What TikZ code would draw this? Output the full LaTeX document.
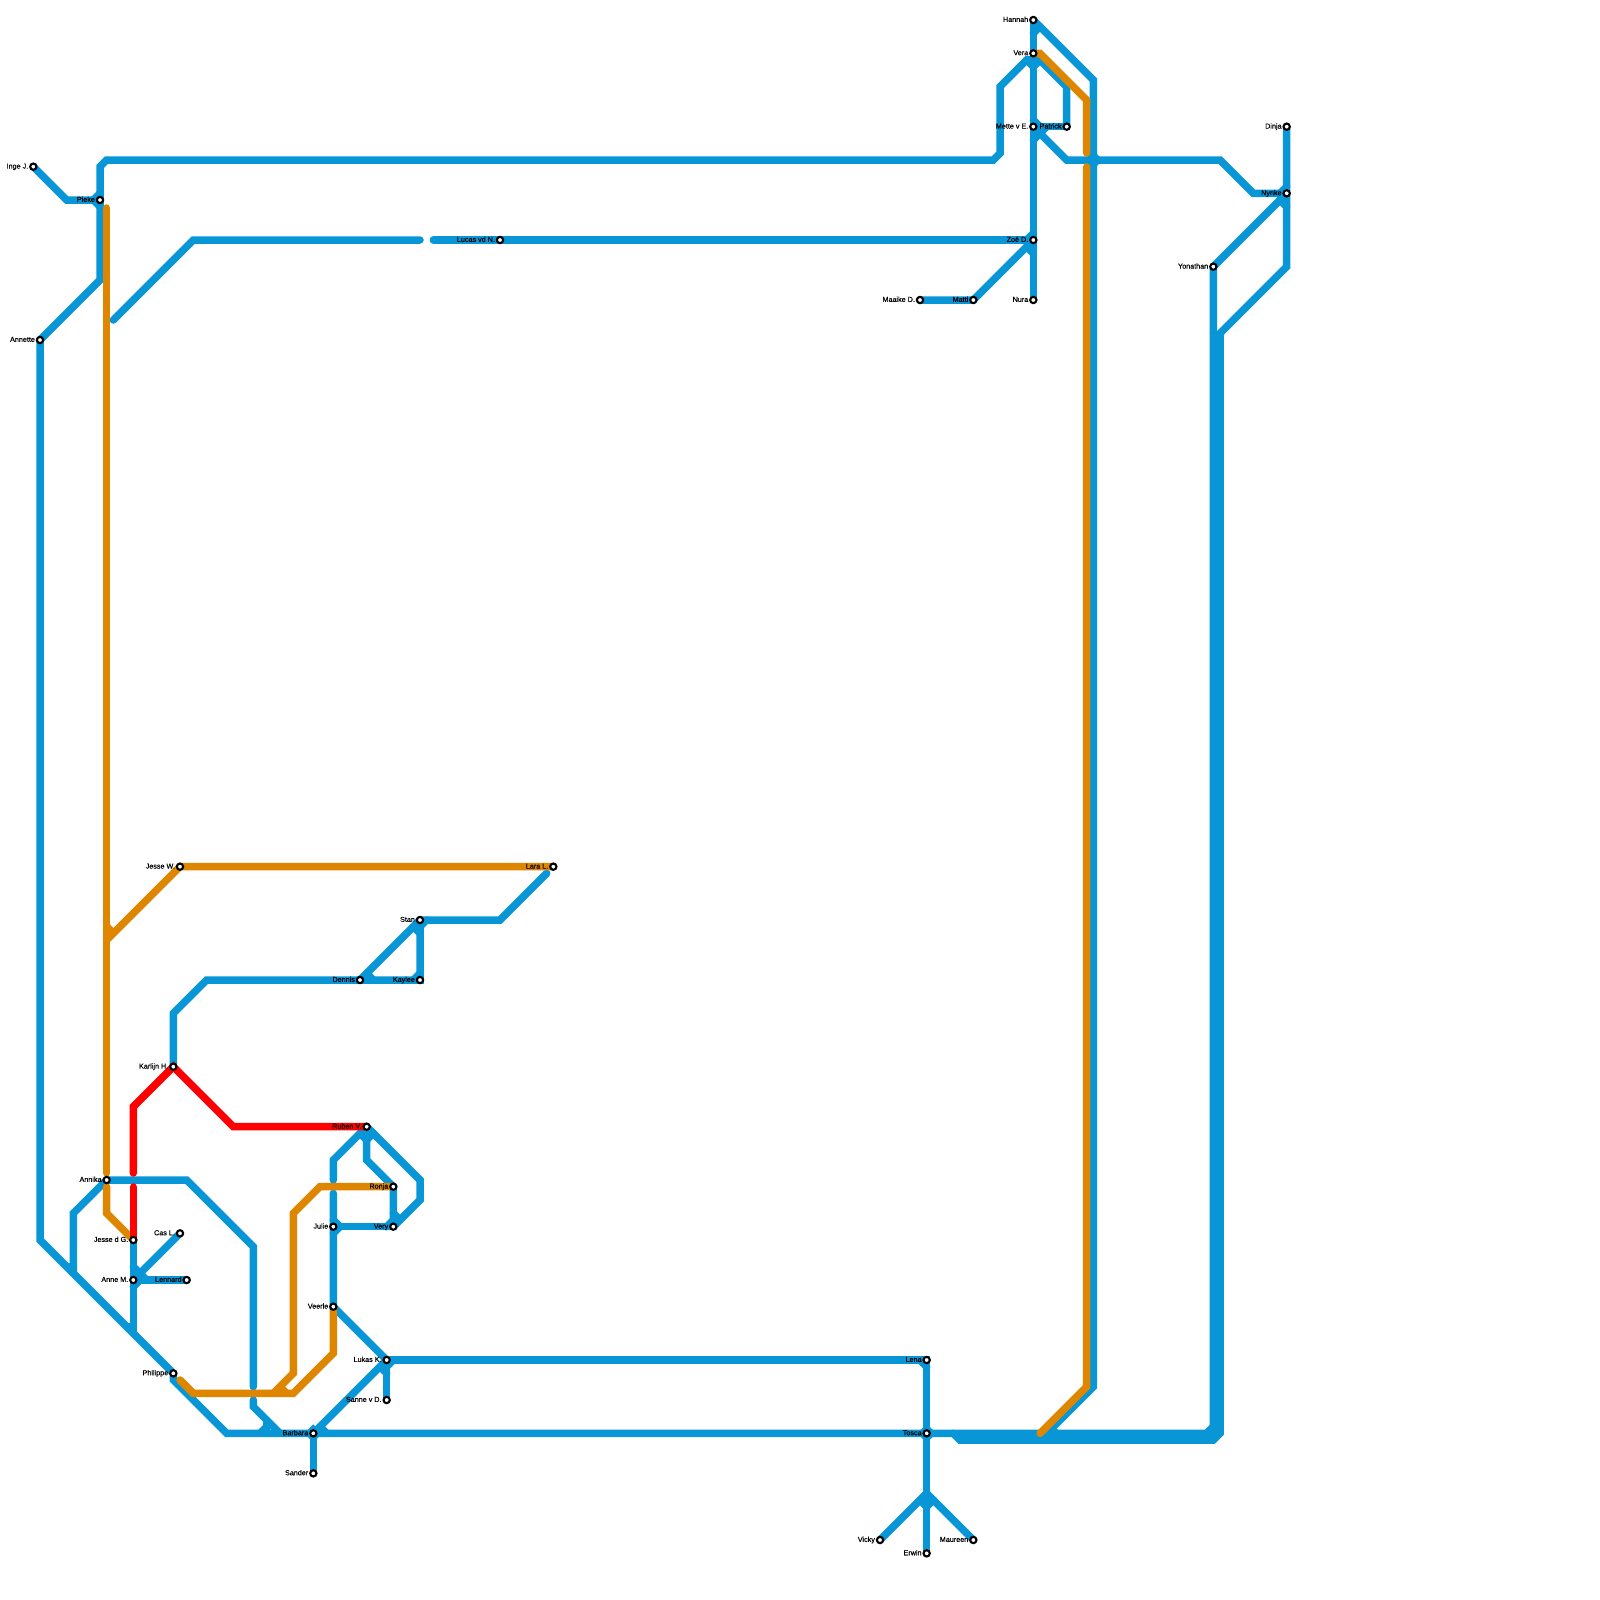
\documentclass[tikz,border=0pt]{standalone}
\usepackage{fontspec}
\setmainfont{Liberation Sans}
\pgfdeclarelayer{fg}
\pgfsetlayers{main,fg}
\definecolor{mblue}{HTML}{0896D7}
\definecolor{morange}{HTML}{DF8600}
\definecolor{mred}{HTML}{FF0000}
\tikzset{
  stn/.style={circle,draw=black,fill=white,line width=2.1pt,minimum size=6.3pt,inner sep=0pt,outer sep=0pt},
  lab/.style={inner sep=0pt,outer sep=0pt,text=black,font=\fontsize{7.2}{8}\selectfont\addfontfeature{FakeBold=0.3}},
  lineb/.style={draw=mblue,line width=7.5pt,line cap=round,line join=miter,miter limit=10},
  lineo/.style={lineb,draw=morange},
  liner/.style={lineb,draw=mred},
  blob/.style={fill=mblue,draw=none},
}
\newcommand{\stn}[4]{%
  \node[stn] (#1) at (#2,#3) {};
  \node[lab,anchor=base east] (#1-l) at ([shift={(-5.1,1.9)}]#1.center) {#4};
}
\newcommand{\dia}[3]{\fill[blob] (#1-#3,#2) -- (#1,#2-#3) -- (#1+#3,#2) -- (#1,#2+#3) -- cycle;}
\begin{document}
\begin{tikzpicture}[x=1pt,y=-1pt]
\useasboundingbox (0,0) rectangle (1600,1600);
\begin{pgfonlayer}{fg}
\stn{inge}{33.33}{166.67}{Inge J.}
\stn{pieke}{100}{200}{Pieke}
\stn{annette}{40}{340}{Annette}
\stn{hannah}{1033.33}{20}{Hannah}
\stn{vera}{1033.33}{53.33}{Vera}
\stn{mette}{1033.33}{126.67}{Mette v E.}
\stn{patrick}{1066.67}{126.67}{Patrick}
\stn{zoe}{1033.33}{240}{Zoë D.}
\stn{nura}{1033.33}{300}{Nura}
\stn{matti}{973.33}{300}{Matti}
\stn{maaike}{920}{300}{Maaike D.}
\stn{lucas}{500}{240}{Lucas vd N.}
\stn{dinja}{1286.67}{126.67}{Dinja}
\stn{nynke}{1286.67}{193.33}{Nynke}
\stn{yonathan}{1213.33}{266.67}{Yonathan}
\stn{jessew}{180}{866.67}{Jesse W.}
\stn{lara}{553.33}{866.67}{Lara L.}
\stn{stan}{420}{920}{Stan}
\stn{dennis}{360}{980}{Dennis}
\stn{kaylee}{420}{980}{Kaylee}
\stn{karlijn}{173.33}{1066.67}{Karlijn H.}
\stn{ruben}{366.67}{1126.67}{Ruben V.}
\stn{annika}{106.67}{1180}{Annika}
\stn{jessed}{133.33}{1240}{Jesse d G.}
\stn{cas}{180}{1233.33}{Cas L.}
\stn{anne}{133.33}{1280}{Anne M.}
\stn{lennard}{186.67}{1280}{Lennard}
\stn{philippe}{173.33}{1373.33}{Philippe}
\stn{ronja}{393.33}{1186.67}{Ronja}
\stn{very}{393.33}{1226.67}{Very}
\stn{julie}{333.33}{1226.67}{Julie}
\stn{veerle}{333.33}{1306.67}{Veerle}
\stn{lukas2}{386.67}{1360}{Lukas K.}
\stn{sanne}{386.67}{1400}{Sanne v D.}
\stn{barbara}{313.33}{1433.33}{Barbara}
\stn{sander}{313.33}{1473.33}{Sander}
\stn{lena}{926.67}{1360}{Lena}
\stn{tosca}{926.67}{1433.33}{Tosca}
\stn{vicky}{880}{1540}{Vicky}
\stn{erwin}{926.67}{1553.33}{Erwin}
\stn{maureen}{973.33}{1540}{Maureen}
\end{pgfonlayer}
% blue blobs at interchanges
\dia{926.67}{1433.33}{9.5}
\dia{1093.33}{160}{9.5}
\dia{313.33}{1433.33}{9}
% blue lines
\draw[lineb] (inge.center) -- (66.67,200) -- (pieke.center);
\draw[lineb] (pieke.center) -- (100,166.67) -- (106.67,160) -- (993.33,160) -- (1000,153.33) -- (1000,86.67) -- (1026.67,60) -- (1040,60) -- (1066.67,86.67) -- (1066.67,120) -- (patrick.center);
\draw[lineb] (pieke.center) -- (100,280) -- (annette.center) -- (40,1240) -- (philippe.center) -- (173.33,1380) -- (226.67,1433.33) -- (barbara.center);
\draw[lineb] (100,193.33) -- (93.33,200) -- (100,206.67);
\draw[lineb] (hannah.center) -- (nura.center);
\draw[lineb] (hannah.center) -- (1093.33,80) -- (1093.33,1386.67) -- (1046.67,1433.33);
\draw[lineb] (1033.33,33.33) -- (1040,26.67);
\draw[lineb] (1033.33,66.67) -- (1040,60);
\draw[lineb] (1033.33,66.67) -- (1026.67,60);
\draw[lineb] (mette.center) -- (patrick.center);
\draw[lineb] (1033.33,120) -- (1040,126.67);
\draw[lineb] (mette.center) -- (1040,133.33) -- (1066.67,160) -- (1220,160) -- (1253.33,193.33) -- (nynke.center);
\draw[lineb] (1033.33,140) -- (1040,133.33) -- (1046.67,126.67);
\draw[lineb] (113.33,320) -- (193.33,240) -- (420,240);
\draw[lineb] (433.33,240) -- (lucas.center) -- (zoe.center);
\draw[lineb] (maaike.center) -- (matti.center) -- (1026.67,246.67) -- (zoe.center);
\draw[lineb] (1026.67,240) -- (1033.33,233.33);
\draw[lineb] (1026.67,246.67) -- (1033.33,253.33);
\draw[lineb] (1026.67,240) -- (1033.33,246.67);
\draw[lineb] (dinja.center) -- (1286.67,266.67) -- (1220,333.33) -- (1220,1433.33) -- (1213.33,1440) -- (960,1440) -- (953.33,1433.33);
\draw[lineb] (yonathan.center) -- (1280,200) -- (nynke.center);
\draw[lineb] (1280,193.33) -- (1286.67,186.67);
\draw[lineb] (1280,200) -- (1286.67,206.67);
\draw[lineb] (yonathan.center) -- (1213.33,1426.67) -- (1206.67,1433.33) -- (tosca.center) -- (barbara.center);
\draw[lineb] (1216.67,1430) -- (1210,1436.67);
\draw[lineb] (1213.33,333.33) -- (1220,340);
\draw[lineb] (1056,1433.33) -- (1050,1427);
\draw[lineb] (annika.center) -- (186.67,1180) -- (253.33,1246.67) -- (253.33,1386.67);
\draw[lineb] (253.33,1400) -- (253.33,1406.67) -- (280,1433.33);
\draw[lineb] (266.67,1420) -- (266.67,1433.33);
\draw[lineb] (266.67,1426.67) -- (260,1433.33);
\draw[lineb] (annika.center) -- (73.33,1213.33) -- (73.33,1273.33);
\draw[lineb] (73.33,1266.67) -- (66.67,1266.67);
\draw[lineb] (jessed.center) -- (133.33,1333.33);
\draw[lineb] (133.33,1326.67) -- (126.67,1326.67);
\draw[lineb] (cas.center) -- (140,1273.33) -- (anne.center);
\draw[lineb] (133.33,1266.67) -- (140,1273.33);
\draw[lineb] (anne.center) -- (lennard.center);
\draw[lineb] (133.33,1286.67) -- (140,1280);
\draw[lineb] (140,1273.33) -- (146.67,1280);
\draw[lineb] (lara.center) ++(-6.67,6.67) -- (500,920) -- (stan.center);
\draw[lineb] (stan.center) -- (kaylee.center) -- (dennis.center) -- (206.67,980) -- (173.33,1013.33) -- (karlijn.center);
\draw[lineb] (dennis.center) -- (stan.center);
\draw[lineb] (366.67,973.33) -- (373.33,980);
\draw[lineb] (413.33,926.67) -- (420,933.33);
\draw[lineb] (420,926.67) -- (426.67,920);
\draw[lineb] (420,973.33) -- (413.33,980);
\draw[lineb] (ruben.center) -- (333.33,1160) -- (333.33,1180);
\draw[lineb] (333.33,1193.33) -- (julie.center) -- (veerle.center) -- (lukas2.center);
\draw[lineb] (333.33,1220) -- (340,1226.67) -- (333.33,1233.33);
\draw[lineb] (julie.center) -- (very.center);
\draw[lineb] (393.33,1220) -- (386.67,1226.67);
\draw[lineb] (ruben.center) -- (420,1180) -- (420,1200) -- (very.center);
\draw[lineb] (ruben.center) -- (366.67,1160) -- (ronja.center) -- (very.center);
\draw[lineb] (360,1133.33) -- (366.67,1140) -- (373.33,1133.33);
\draw[lineb] (393.33,1213.33) -- (400,1220);
\draw[lineb] (lukas2.center) -- (lena.center) -- (926.67,1493.33) -- (erwin.center);
\draw[lineb] (920,1360) -- (926.67,1366.67);
\draw[lineb] (lukas2.center) -- (sanne.center);
\draw[lineb] (380,1366.67) -- (386.67,1373.33);
\draw[lineb] (386.67,1366.67) -- (393.33,1360);
\draw[lineb] (barbara.center) -- (lukas2.center);
\draw[lineb] (barbara.center) -- (sander.center);
\draw[lineb] (320,1426.67) -- (326.67,1433.33);
\draw[lineb] (vicky.center) -- (926.67,1493.33) -- (maureen.center);
\draw[lineb] (920,1500) -- (926.67,1506.67) -- (933.33,1500);
% orange
\draw[lineo] (106.67,208) -- (106.67,1173);
\draw[lineo] (106.67,1187) -- (106.67,1213.33) -- (jessed.center);
\draw[lineo] (106.67,940) -- (jessew.center) -- (lara.center);
\draw[lineo] (106.67,926.67) -- (113.33,933.33);
\draw[lineo] (vera.center) -- (1040,53.33) -- (1086.67,100) -- (1086.67,153);
\draw[lineo] (1086.67,167) -- (1086.67,1386.67) -- (1040,1433.33);
\draw[lineo] (veerle.center) -- (333.33,1353.33) -- (293.33,1393.33) -- (193.33,1393.33) -- (180,1380);
\draw[lineo] (ronja.center) -- (320,1186.67) -- (293.33,1213.33) -- (293.33,1373.33) -- (273.33,1393.33);
\draw[lineo] (280,1386.67) -- (286.67,1393.33);
% red
\draw[liner] (jessed.center) -- (133.33,1187);
\draw[liner] (133.33,1173) -- (133.33,1106.67) -- (karlijn.center) -- (233.33,1126.67) -- (ruben.center);
\end{tikzpicture}
\end{document}
